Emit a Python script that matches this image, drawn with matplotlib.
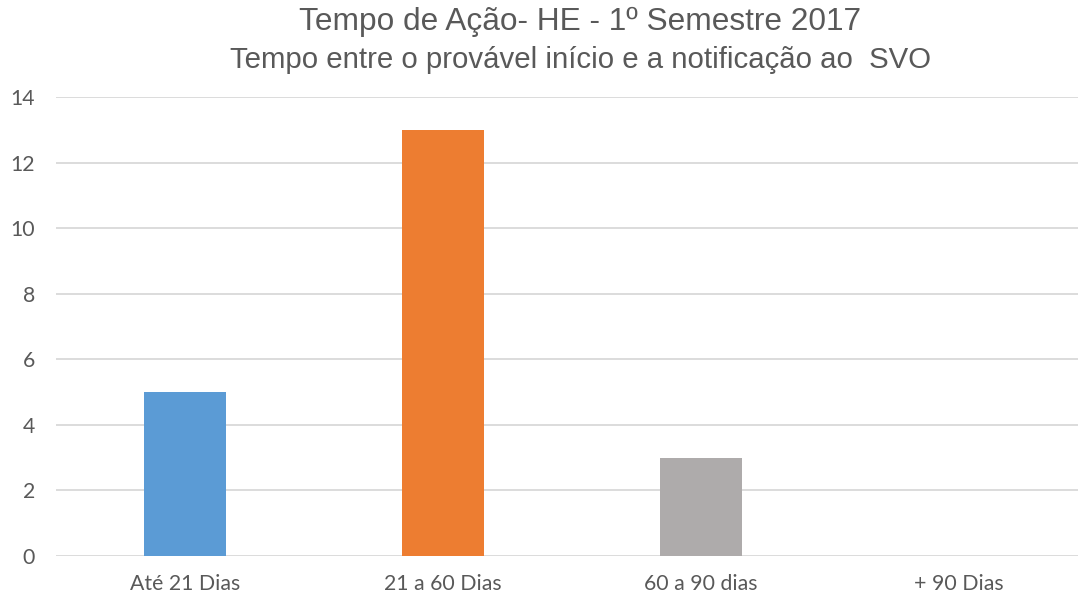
import matplotlib
matplotlib.use("Agg")
import matplotlib.pyplot as plt

categories = ["Até 21 Dias", "21 a 60 Dias", "60 a 90 dias", "+ 90 Dias"]
values = [5, 13, 3, 0]
colors = ["#5B9BD5", "#ED7D31", "#AEABAB", "#FFC000"]
yticks = [0, 2, 4, 6, 8, 10, 12, 14]

W, H = 1078, 598
fig = plt.figure(figsize=(W / 100, H / 100), dpi=100)
left, right = 56, 1078
bottom, top = 556, 97
ax = fig.add_axes([left / W, (H - bottom) / H, (right - left) / W, (bottom - top) / H])

x = list(range(len(categories)))
ax.bar(x, values, width=0.314, color=colors, zorder=3)
ax.set_ylim(0, 14)
ax.set_xlim(-0.5, 3.5 - 10 / 258)
ax.set_yticks(yticks)
ax.set_xticks(x)
ax.set_xticklabels(categories)
ax.yaxis.grid(True, color="#D9D9D9", linewidth=1.3, zorder=0)
for s in ax.spines.values():
    s.set_visible(False)
ax.tick_params(axis="both", length=0, colors="#595959", labelsize=15.3)
ax.tick_params(axis="y", pad=15)
ax.tick_params(axis="x", pad=13)
for lab in ax.get_xticklabels() + ax.get_yticklabels():
    lab.set_family("Lato")

fig.text(580 / W, 1 - 22 / H, "Tempo de Ação- HE - 1º Semestre 2017", ha="center", va="center",
         fontsize=22.8, color="#595959", family="Liberation Sans")
fig.text(580 / W, 1 - 60 / H, "Tempo entre o provável início e a notificação ao  SVO", ha="center", va="center",
         fontsize=21.2, color="#595959", family="Liberation Sans")

fig.savefig("out.png", dpi=100)
